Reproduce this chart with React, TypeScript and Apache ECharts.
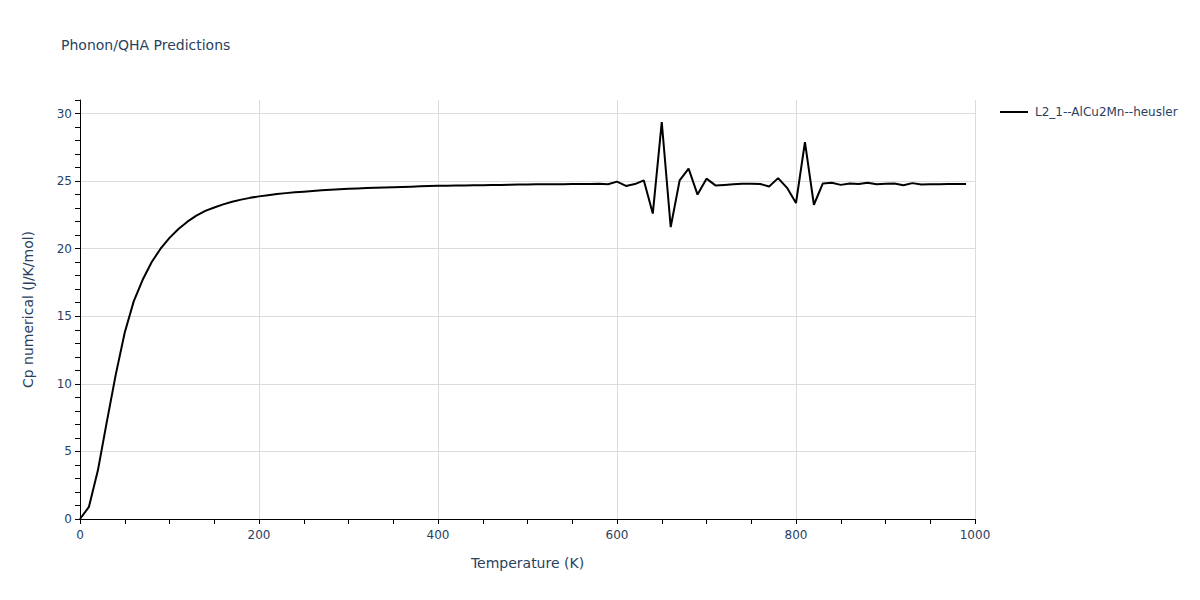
import React, { useEffect, useRef } from "react";
import * as echarts from "echarts";

const temperatures: number[] = [];
for (let t = 0; t <= 990; t += 10) temperatures.push(t);

const cpValues: number[] = [
  0, 0.9, 3.6, 7.2, 10.7, 13.8, 16.1, 17.7, 19.0, 20.0,
  20.8, 21.45, 22.0, 22.45, 22.8, 23.05, 23.28, 23.47, 23.63, 23.76,
  23.87, 23.96, 24.04, 24.11, 24.17, 24.22, 24.27, 24.32, 24.36, 24.4,
  24.43, 24.46, 24.49, 24.51, 24.53, 24.55, 24.57, 24.59, 24.61, 24.63,
  24.65, 24.66, 24.67, 24.68, 24.69, 24.7, 24.71, 24.72, 24.73, 24.74,
  24.75, 24.76, 24.76, 24.77, 24.77, 24.78, 24.78, 24.79, 24.8, 24.77,
  24.96, 24.64, 24.78, 25.05, 22.6, 29.37, 21.6, 25.05, 25.92, 24.0,
  25.18, 24.68, 24.72, 24.76, 24.8, 24.8, 24.79, 24.6, 25.22, 24.5,
  23.38, 27.89, 23.25, 24.83, 24.88, 24.72, 24.83, 24.78, 24.88, 24.76,
  24.8, 24.82, 24.7, 24.85, 24.75, 24.77, 24.77, 24.78, 24.78, 24.78,
];

const seriesName = "L2_1--AlCu2Mn--heusler";
const chartTitle = "Phonon/QHA Predictions";
const xTitle = "Temperature (K)";
const yTitle = "Cp numerical (J/K/mol)";

const FONT = "'DejaVu Sans', Verdana, sans-serif";
const TEXT = "#2a3f5f";

export default function App() {
  const ref = useRef<HTMLDivElement>(null);
  useEffect(() => {
    if (!ref.current) return;
    const chart = echarts.init(ref.current, undefined, { renderer: "svg" });
    const data = temperatures.map((t, i) => [t, cpValues[i]]);
    chart.setOption({
      animation: false,
      backgroundColor: "#fff",
      textStyle: { fontFamily: FONT },
      title: {
        text: chartTitle,
        left: 56,
        top: 33,
        textStyle: { fontFamily: FONT, fontSize: 14, fontWeight: "normal", color: TEXT },
      },
      legend: {
        left: 1000,
        top: 106,
        orient: "vertical",
        itemWidth: 28,
        itemHeight: 2,
        itemGap: 6,
        icon: "rect",
        padding: 0,
        textStyle: { fontFamily: FONT, fontSize: 12, color: TEXT, padding: [0, 0, 0, 2] },
        data: [{ name: seriesName, icon: "rect" }],
      },
      grid: { left: 80, right: 225, top: 100, bottom: 81, containLabel: false },
      xAxis: [
        {
          type: "value",
          min: 0,
          max: 1000,
          interval: 200,
          name: xTitle,
          nameLocation: "middle",
          nameGap: 37,
          nameTextStyle: { fontFamily: FONT, fontSize: 14, color: TEXT },
          axisLine: { show: true, onZero: false, lineStyle: { color: "#000", width: 1 } },
          axisTick: { show: false },
          axisLabel: { fontFamily: FONT, fontSize: 12, color: TEXT, margin: 10, formatter: (v: number) => String(v) },
          splitLine: { show: true, lineStyle: { color: "#dcdcdc", width: 1 } },
        },
        {
          type: "value",
          min: 0,
          max: 1000,
          interval: 50,
          position: "bottom",
          axisLine: { show: false },
          axisTick: { show: true, length: 5, lineStyle: { color: "#000" } },
          axisLabel: { show: false },
          splitLine: { show: false },
        },
      ],
      yAxis: [
        {
          type: "value",
          min: 0,
          max: 31,
          interval: 5,
          name: yTitle,
          nameLocation: "middle",
          nameGap: 45,
          nameTextStyle: { fontFamily: FONT, fontSize: 14, color: TEXT },
          axisLine: { show: true, onZero: false, lineStyle: { color: "#000", width: 1 } },
          axisTick: { show: false },
          axisLabel: { fontFamily: FONT, fontSize: 12, color: TEXT, margin: 8, showMaxLabel: false },
          splitLine: { show: true, showMaxLine: false, lineStyle: { color: "#dcdcdc", width: 1 } },
        },
        {
          type: "value",
          min: 0,
          max: 31,
          interval: 1,
          position: "left",
          axisLine: { show: false },
          axisTick: { show: true, length: 5, lineStyle: { color: "#000" } },
          axisLabel: { show: false },
          splitLine: { show: false },
        },
      ],
      series: [
        {
          name: seriesName,
          type: "line",
          data,
          showSymbol: false,
          symbol: "none",
          lineStyle: { color: "#000", width: 2 },
          itemStyle: { color: "#000" },
          z: 5,
        },
      ],
    });
    return () => chart.dispose();
  }, []);
  return <div ref={ref} style={{ width: 1200, height: 600, position: "absolute", left: 0, top: 0 }} />;
}
